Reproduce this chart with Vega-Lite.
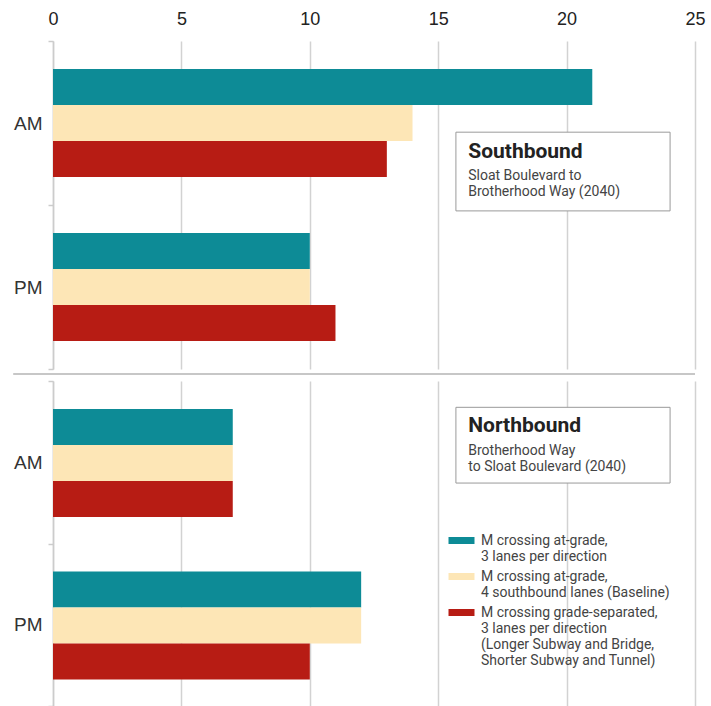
{
  "$schema": "https://vega.github.io/schema/vega-lite/v6.json",
  "padding": 0,
  "bounds": "flush",
  "background": "white",
  "spacing": 12,
  "datasets": {
    "bars": [
      {"panel": "Southbound", "period": "AM", "series": "M crossing at-grade, 3 lanes per direction", "value": 21},
      {"panel": "Southbound", "period": "AM", "series": "M crossing at-grade, 4 southbound lanes (Baseline)", "value": 14},
      {"panel": "Southbound", "period": "AM", "series": "M crossing grade-separated, 3 lanes per direction (Longer Subway and Bridge, Shorter Subway and Tunnel)", "value": 13},
      {"panel": "Southbound", "period": "PM", "series": "M crossing at-grade, 3 lanes per direction", "value": 10},
      {"panel": "Southbound", "period": "PM", "series": "M crossing at-grade, 4 southbound lanes (Baseline)", "value": 10},
      {"panel": "Southbound", "period": "PM", "series": "M crossing grade-separated, 3 lanes per direction (Longer Subway and Bridge, Shorter Subway and Tunnel)", "value": 11},
      {"panel": "Northbound", "period": "AM", "series": "M crossing at-grade, 3 lanes per direction", "value": 7},
      {"panel": "Northbound", "period": "AM", "series": "M crossing at-grade, 4 southbound lanes (Baseline)", "value": 7},
      {"panel": "Northbound", "period": "AM", "series": "M crossing grade-separated, 3 lanes per direction (Longer Subway and Bridge, Shorter Subway and Tunnel)", "value": 7},
      {"panel": "Northbound", "period": "PM", "series": "M crossing at-grade, 3 lanes per direction", "value": 12},
      {"panel": "Northbound", "period": "PM", "series": "M crossing at-grade, 4 southbound lanes (Baseline)", "value": 12},
      {"panel": "Northbound", "period": "PM", "series": "M crossing grade-separated, 3 lanes per direction (Longer Subway and Bridge, Shorter Subway and Tunnel)", "value": 10}
    ],
    "southNote": [{"title": "Southbound", "sub": "Sloat Boulevard to\nBrotherhood Way (2040)"}],
    "northNote": [{"title": "Northbound", "sub": "Brotherhood Way\nto Sloat Boulevard (2040)"}]
  },
  "config": {
    "view": {"stroke": null},
    "style": {"guide-label": {"lineHeight": 16}},
    "axisY": {
      "title": null,
      "domainColor": "#cccccc",
      "domainWidth": 1.5,
      "tickColor": "#cccccc",
      "tickWidth": 1.5,
      "tickSize": 5,
      "tickBand": "extent",
      "labelFont": "Liberation Sans",
      "labelFontSize": 19,
      "labelColor": "#333333",
      "labelPadding": 6,
      "minExtent": 53,
      "maxExtent": 53
    },
    "axisX": {
      "title": null,
      "grid": true,
      "gridColor": "#d2d2d2",
      "gridWidth": 1.5,
      "ticks": false,
      "domain": false,
      "labelFlush": false
    },
    "legend": {
      "orient": "none",
      "legendX": 401.5,
      "legendY": 497,
      "title": null,
      "symbolType": "M-3.714,-2.29H3.714V-0.29H-3.714Z",
      "symbolSize": 49,
      "symbolStrokeWidth": 0,
      "labelFont": "Roboto",
      "labelFontSize": 14,
      "labelColor": "#444444",
      "labelOffset": 12.5,
      "labelLimit": 300,
      "rowPadding": 6
    }
  },
  "vconcat": [
    {
      "width": 642,
      "height": 328,
      "layer": [
        {
          "data": {"name": "bars"},
          "transform": [{"filter": "datum.panel == 'Southbound'"}],
          "mark": {"type": "bar"},
          "encoding": {
            "y": {"field": "period", "type": "nominal", "sort": ["AM", "PM"], "scale": {"paddingInner": 0, "paddingOuter": 0}},
            "yOffset": {"field": "series", "type": "nominal", "sort": null, "scale": {"paddingInner": 0, "paddingOuter": 0.778}},
            "x": {"field": "value", "type": "quantitative", "scale": {"domain": [0, 25], "nice": false},
                  "axis": {"orient": "top", "values": [0, 5, 10, 15, 20, 25], "labelFont": "Liberation Sans", "labelFontSize": 18, "labelColor": "#222222", "labelPadding": 13, "minExtent": 41, "maxExtent": 41}},
            "color": {
              "field": "series", "type": "nominal", "sort": null,
              "scale": {"range": ["#0d8b96", "#fde6b6", "#b71c14"]},
              "legend": {
                "labelExpr": "indexof(datum.label, 'Baseline') >= 0 ? ['M crossing at-grade,', '4 southbound lanes (Baseline)'] : indexof(datum.label, 'Tunnel') >= 0 ? ['M crossing grade-separated,', '3 lanes per direction', '(Longer Subway and Bridge,', 'Shorter Subway and Tunnel)'] : ['M crossing at-grade,', '3 lanes per direction']",
                "labelBaseline": "alphabetic"
              }
            }
          }
        },
        {
          "data": {"name": "southNote"},
          "layer": [
            {
              "mark": {"type": "rect", "fill": "white", "stroke": "#9a9a9a", "strokeWidth": 1},
              "encoding": {
                "x": {"datum": 15.69, "type": "quantitative"},
                "x2": {"datum": 24.03},
                "y": {"datum": 0.722, "type": "quantitative", "scale": {"domain": [0, 1]}, "axis": null},
                "y2": {"datum": 0.482}
              }
            },
            {
              "mark": {"type": "text", "align": "left", "baseline": "alphabetic", "font": "Roboto", "fontWeight": "bold", "fontSize": 21, "color": "#222222"},
              "encoding": {
                "x": {"datum": 16.17, "type": "quantitative"},
                "y": {"datum": 0.643, "type": "quantitative"},
                "text": {"field": "title"}
              }
            },
            {
              "mark": {"type": "text", "align": "left", "baseline": "alphabetic", "font": "Roboto", "fontSize": 14, "lineHeight": 16, "lineBreak": "\n", "color": "#444444"},
              "encoding": {
                "x": {"datum": 16.17, "type": "quantitative"},
                "y": {"datum": 0.576, "type": "quantitative"},
                "text": {"field": "sub"}
              }
            }
          ]
        }
      ],
      "resolve": {"scale": {"y": "independent"}, "axis": {"y": "independent"}}
    },
    {
      "width": 642,
      "height": 325,
      "layer": [
        {
          "data": {"name": "bars"},
          "transform": [{"filter": "datum.panel == 'Northbound'"}],
          "mark": {"type": "bar"},
          "encoding": {
            "y": {"field": "period", "type": "nominal", "sort": ["AM", "PM"], "scale": {"paddingInner": 0, "paddingOuter": 0}},
            "yOffset": {"field": "series", "type": "nominal", "sort": null, "scale": {"paddingInner": 0, "paddingOuter": 0.737}},
            "x": {"field": "value", "type": "quantitative", "scale": {"domain": [0, 25], "nice": false},
                  "axis": {"orient": "top", "values": [0, 5, 10, 15, 20, 25], "labels": false}},
            "color": {"field": "series", "type": "nominal", "sort": null}
          }
        },
        {
          "data": {"name": "northNote"},
          "layer": [
            {
              "mark": {"type": "rule", "color": "#8f8f8f", "strokeWidth": 1.2, "clip": false},
              "encoding": {
                "x": {"datum": -1.55, "type": "quantitative"},
                "x2": {"datum": 25},
                "y": {"datum": 1.0215, "type": "quantitative", "scale": {"domain": [0, 1]}, "axis": null}
              }
            },
            {
              "mark": {"type": "rect", "fill": "white", "stroke": "#9a9a9a", "strokeWidth": 1},
              "encoding": {
                "x": {"datum": 15.69, "type": "quantitative"},
                "x2": {"datum": 24.03},
                "y": {"datum": 0.919, "type": "quantitative"},
                "y2": {"datum": 0.686}
              }
            },
            {
              "mark": {"type": "text", "align": "left", "baseline": "alphabetic", "font": "Roboto", "fontWeight": "bold", "fontSize": 21, "color": "#222222"},
              "encoding": {
                "x": {"datum": 16.17, "type": "quantitative"},
                "y": {"datum": 0.844, "type": "quantitative"},
                "text": {"field": "title"}
              }
            },
            {
              "mark": {"type": "text", "align": "left", "baseline": "alphabetic", "font": "Roboto", "fontSize": 14, "lineHeight": 16, "lineBreak": "\n", "color": "#444444"},
              "encoding": {
                "x": {"datum": 16.17, "type": "quantitative"},
                "y": {"datum": 0.772, "type": "quantitative"},
                "text": {"field": "sub"}
              }
            }
          ]
        }
      ],
      "resolve": {"scale": {"y": "independent"}, "axis": {"y": "independent"}}
    }
  ]
}
